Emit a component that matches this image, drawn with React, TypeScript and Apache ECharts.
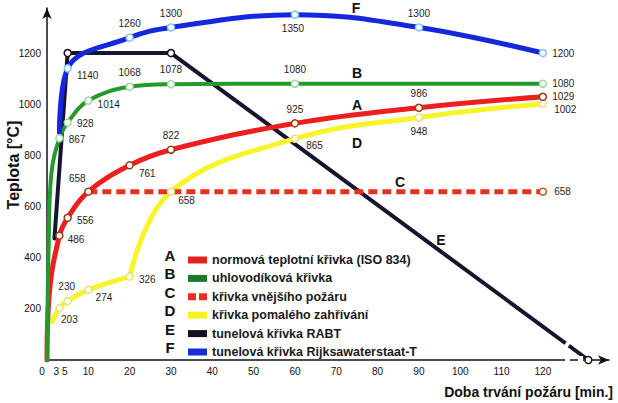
import React, { useEffect, useRef } from "react";
import * as echarts from "echarts";

// ---- data ----
const xTickLabels = [0, 3, 5, 10, 20, 30, 40, 50, 60, 70, 80, 90, 100, 110, 120];
const yTickLabels = [200, 400, 600, 800, 1000, 1200];

const seriesLetters = ["A", "B", "C", "D", "E", "F"];
const seriesNames = [
  "normová teplotní křivka (ISO 834)",
  "uhlovodíková křivka",
  "křivka vnějšího požáru",
  "křivka pomalého zahřívání",
  "tunelová křivka RABT",
  "tunelová křivka Rijksawaterstaat-T",
];

// A – ISO 834
const aTimes = [0, 0.5, 3, 5, 10, 20, 30, 60, 90, 120];
const aTemps = [0, 250, 486, 556, 658, 761, 822, 925, 986, 1029];
// B – hydrocarbon
const bTimes = [0, 0.4, 1, 3, 5, 10, 20, 30, 60, 120];
const bTemps = [0, 450, 720, 867, 928, 1014, 1068, 1078, 1080, 1080];
// C – external fire
const cTimes = [10, 120];
const cTemps = [658, 658];
// D – slow heating
const dTimes = [1.3, 3, 5, 10, 20, 30, 60, 90, 120];
const dTemps = [150, 203, 230, 274, 326, 658, 865, 948, 1002];
// E – RABT
const eTimes = [1.8, 5, 30, 131];
const eTemps = [475, 1200, 1200, 0];
// F – Rijkswaterstaat
const fTimes = [3, 5, 20, 30, 60, 90, 120];
const fTemps = [890, 1140, 1260, 1300, 1350, 1300, 1200];

// ---- styling ----
const FONT = '"Liberation Sans", Arial, Helvetica, sans-serif';
const colA = "#ec1e1e";
const colB = "#24992c";
const colC = "#e8301c";
const colD = "#f8f42a";
const colE = "#15152e";
const colF = "#1529dc";

type Place = [string, number, number] | null;
// label placement per point: [position, dx, dy]; null = no label
const aPlaces: Place[] = [null, null, ["right", -1, 4], ["right", 0, 3], ["top", -11, 1], ["right", 0, 8], ["top", 0, 0], ["top", 0, 0], ["top", 0, 0], ["right", 0, 0]];
const bPlaces: Place[] = [null, null, null, ["right", 0, 1], ["right", 0, 1], ["right", 0, 4], ["top", 0, 0], ["top", 0, 0], ["top", 0, 0], ["right", 0, 0]];
const cPlaces: Place[] = [null, ["right", 2, 0]];
const dPlaces: Place[] = [null, ["bottom", 10, -3], ["top", -1, 0], ["right", -2, 8], ["right", 0, 3], ["right", -2, 9], ["right", 2, 7], ["bottom", 0, 0], ["right", 2, 6]];
const fPlaces: Place[] = [null, ["right", 0, 7], ["top", 0, 0], ["top", 0, 0], ["bottom", -2, 0], ["top", 0, 0], ["right", 0, 0]];
const eMarkers = [false, true, true, true];
// small left shifts of the crowded first tick labels (as in the reference)
const xLabelShift: Record<number, number> = { 0: 5, 3: 3, 5: 3 };

function buildData(times: number[], temps: number[], places: Place[], markers?: boolean[]) {
  return times.map((t, i) => {
    const p = places[i];
    const hasMarker = markers ? markers[i] : !!p;
    const item: any = { value: [t, temps[i]] };
    if (!hasMarker) item.symbol = "none";
    if (p) {
      item.label = { show: true, position: p[0], offset: [p[1], p[2]] };
    }
    return item;
  });
}

function lineSeries(name: string, data: any[], color: string, width: number, markerBorder: string, extra: any = {}) {
  return {
    type: "line",
    name,
    data,
    smooth: 0.4,
    symbol: "circle",
    symbolSize: 7,
    showSymbol: true,
    lineStyle: { color, width, cap: "round", join: "round" },
    itemStyle: { color: "#ffffff", borderColor: markerBorder, borderWidth: 1.5 },
    label: {
      show: false,
      fontFamily: FONT,
      fontSize: 10,
      color: "#1e1e1e",
      formatter: (p: any) => String(p.value[1]),
    },
    emphasis: { disabled: true },
    silent: true,
    ...extra,
  };
}

export default function App() {
  const ref = useRef<HTMLDivElement>(null);

  useEffect(() => {
    if (!ref.current) return;
    const chart = echarts.init(ref.current, undefined, { renderer: "svg" });

    const dData = buildData(dTimes, dTemps, dPlaces);
    const dSplit = dTimes.indexOf(20);
    const dData1 = dData.slice(0, dSplit + 1);
    const dData2 = dData.slice(dSplit).map((d, i) => (i === 0 ? { value: d.value, symbol: "none" } : d));

    const series: any[] = [
      lineSeries(seriesNames[4], buildData(eTimes, eTemps, eTimes.map(() => null), eMarkers), colE, 4, "#111", { smooth: false }),
      lineSeries(seriesNames[3], dData1, colD, 5, "#e6e27a"),
      lineSeries(seriesNames[3], dData2, colD, 5, "#e6e27a"),
      lineSeries(seriesNames[2], buildData(cTimes, cTemps, cPlaces), colC, 5, "#b8561c", {
        smooth: false,
        lineStyle: { color: colC, width: 5, type: [9, 5] },
      }),
      lineSeries(seriesNames[0], buildData(aTimes, aTemps, aPlaces), colA, 5, "#9c3a1a"),
      lineSeries(seriesNames[1], buildData(bTimes, bTemps, bPlaces), colB, 4, "#9fd89f"),
      lineSeries(seriesNames[5], buildData(fTimes, fTemps, fPlaces), colF, 5, "#7fc4ff"),
    ];

    const legendColors = ["#e8221b", "#1d7a2c", colC, "#f7f21e", "#101025", "#1530d8"];
    const legendData = seriesNames.map((n, i) => ({
      name: n,
      icon: i === 2 ? "path://M0,0h8v7h-8z M11,0h8v7h-8z" : "rect",
      itemStyle: { color: legendColors[i], borderWidth: 0 },
    }));

    const curveLetterPos: [number, number][] = [
      [357, 105], [357, 73], [400, 182], [357, 143], [441, 240], [356, 8],
    ];
    const legendRowsY = [255, 273, 292, 310, 329, 347];

    const graphic: any[] = [];
    seriesLetters.forEach((l, i) => {
      graphic.push({
        type: "text",
        x: curveLetterPos[i][0],
        y: curveLetterPos[i][1],
        z: 20,
        style: { text: l, font: `bold 14px ${FONT}`, fill: "#111", align: "center", verticalAlign: "middle" },
      });
      graphic.push({
        type: "text",
        x: 170,
        y: legendRowsY[i],
        z: 20,
        style: { text: l, font: `bold 15px ${FONT}`, fill: "#111", align: "center", verticalAlign: "middle" },
      });
    });
    graphic.push({
      type: "text",
      x: 13,
      y: 165,
      rotation: Math.PI / 2,
      z: 20,
      style: { text: "Teplota [°C]", font: `bold 16px ${FONT}`, fill: "#111", align: "center", verticalAlign: "middle" },
    });
    graphic.push({
      type: "text",
      x: 613,
      y: 392,
      z: 20,
      style: { text: "Doba trvání požáru [min.]", font: `bold 14px ${FONT}`, fill: "#111", align: "right", verticalAlign: "middle" },
    });
    // axis break decorations
    graphic.push({ type: "rect", z: 50, shape: { x: 565, y: 356, width: 5, height: 8 }, style: { fill: "#fff" } });
    graphic.push({ type: "rect", z: 50, shape: { x: 578, y: 356, width: 5, height: 8 }, style: { fill: "#fff" } });
    graphic.push({
      type: "line",
      z: 50,
      shape: { x1: 571.5, y1: 338.5, x2: 563.5, y2: 349.5 },
      style: { stroke: "#fff", lineWidth: 4 },
    });

    const rich: any = {};
    Object.keys(xLabelShift).forEach((k) => {
      rich["s" + k] = { fontSize: 10, color: "#111", fontFamily: FONT, padding: [0, xLabelShift[Number(k)] * 2, 0, 0] };
    });

    chart.setOption({
      animation: false,
      backgroundColor: "#ffffff",
      textStyle: { fontFamily: FONT },
      grid: { left: 47, right: 9, top: 8, bottom: 43, containLabel: false },
      xAxis: {
        type: "value",
        min: 0,
        max: 136,
        interval: 1,
        axisLine: { show: true, symbol: ["none", "arrow"], symbolSize: [7, 11], lineStyle: { color: "#111", width: 1.5 } },
        axisTick: { show: false },
        splitLine: { show: false },
        axisLabel: {
          margin: 6,
          fontSize: 10,
          color: "#111",
          fontFamily: FONT,
          showMinLabel: true,
          showMaxLabel: true,
          rich,
          formatter: (v: number) => {
            if (!xTickLabels.includes(v)) return "";
            if (xLabelShift[v] !== undefined) return `{s${v}|${v}}`;
            return String(v);
          },
        },
      },
      yAxis: {
        type: "value",
        min: 0,
        max: 1376,
        interval: 200,
        axisLine: { show: true, symbol: ["none", "arrow"], symbolSize: [7, 11], lineStyle: { color: "#111", width: 1.5 } },
        axisTick: { show: false },
        splitLine: { show: false },
        axisLabel: {
          margin: 6,
          fontSize: 10,
          color: "#111",
          fontFamily: FONT,
          formatter: (v: number) => (yTickLabels.includes(v) ? String(v) : ""),
        },
      },
      legend: {
        orient: "vertical",
        left: 183,
        top: 248,
        itemWidth: 19,
        itemHeight: 7,
        itemGap: 4.4,
        selectedMode: false,
        textStyle: { fontSize: 12.5, fontWeight: "bold", color: "#1a1a1a", fontFamily: FONT, lineHeight: 14 },
        data: legendData,
      },
      graphic,
      series,
    });

    return () => chart.dispose();
  }, []);

  return (
    <div
      ref={ref}
      style={{ position: "fixed", left: 0, top: 0, width: 618, height: 403, background: "#fff" }}
    />
  );
}
